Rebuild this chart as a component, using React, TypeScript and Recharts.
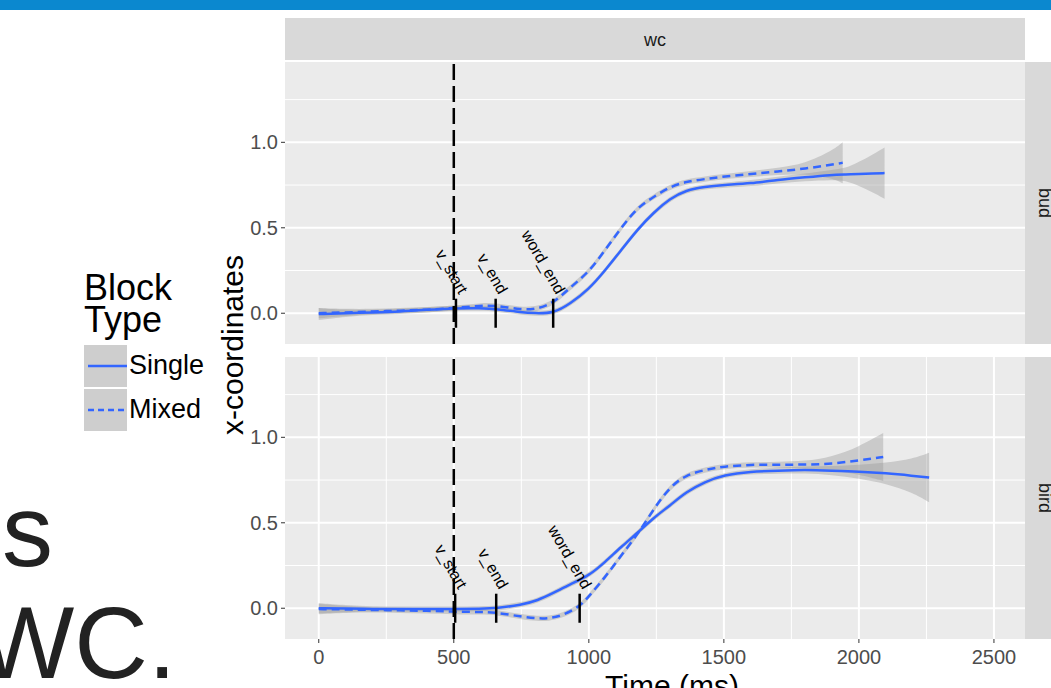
import React from 'react'
import {
  ComposedChart,
  Line,
  Area,
  Scatter,
  XAxis,
  YAxis,
  CartesianGrid,
  ReferenceLine,
} from 'recharts'

// bud panel, Single block
const budSingleT = [0, 100, 200, 300, 400, 500, 600, 660, 750, 800, 870, 930, 1000, 1060, 1120, 1180, 1240, 1300, 1360, 1430, 1500, 1600, 1700, 1800, 1900, 1950, 2000, 2050, 2095]
const budSingleV = [-0.005, 0.0, 0.005, 0.01, 0.02, 0.03, 0.03, 0.025, 0.005, 0.0, 0.0, 0.055, 0.14, 0.25, 0.37, 0.49, 0.59, 0.67, 0.72, 0.74, 0.75, 0.76, 0.78, 0.795, 0.81, 0.812, 0.815, 0.818, 0.82]
const budSingleSe = [0.035, 0.02, 0.015, 0.015, 0.015, 0.015, 0.015, 0.015, 0.015, 0.015, 0.015, 0.015, 0.015, 0.015, 0.015, 0.015, 0.015, 0.015, 0.015, 0.015, 0.015, 0.018, 0.02, 0.022, 0.03, 0.035, 0.07, 0.11, 0.15]

// bud panel, Mixed block
const budMixedT = [0, 100, 200, 300, 400, 500, 600, 660, 750, 810, 870, 930, 1000, 1060, 1120, 1180, 1240, 1300, 1360, 1430, 1500, 1600, 1700, 1800, 1900, 1940]
const budMixedV = [0.0, 0.005, 0.01, 0.015, 0.02, 0.03, 0.045, 0.045, 0.02, 0.025, 0.06, 0.15, 0.24, 0.37, 0.5, 0.62, 0.68, 0.74, 0.77, 0.785, 0.8, 0.815, 0.83, 0.845, 0.87, 0.88]
const budMixedSe = [0.03, 0.02, 0.015, 0.015, 0.015, 0.015, 0.015, 0.015, 0.015, 0.015, 0.015, 0.015, 0.015, 0.015, 0.015, 0.015, 0.015, 0.015, 0.015, 0.015, 0.015, 0.018, 0.02, 0.03, 0.08, 0.12]

// bird panel, Single block
const birdSingleT = [0, 100, 200, 300, 400, 500, 600, 660, 750, 810, 870, 930, 1000, 1060, 1120, 1180, 1240, 1300, 1360, 1430, 1500, 1600, 1700, 1800, 1900, 2000, 2100, 2200, 2260]
const birdSingleV = [0.0, -0.002, -0.004, -0.005, -0.005, -0.005, -0.003, 0.0, 0.02, 0.045, 0.09, 0.14, 0.19, 0.27, 0.36, 0.44, 0.53, 0.6, 0.68, 0.74, 0.78, 0.8, 0.805, 0.81, 0.805, 0.8, 0.79, 0.775, 0.765]
const birdSingleSe = [0.03, 0.02, 0.015, 0.015, 0.015, 0.015, 0.015, 0.015, 0.015, 0.015, 0.015, 0.015, 0.015, 0.015, 0.015, 0.015, 0.015, 0.015, 0.015, 0.015, 0.015, 0.015, 0.018, 0.02, 0.025, 0.04, 0.06, 0.1, 0.145]

// bird panel, Mixed block
const birdMixedT = [0, 100, 200, 300, 400, 500, 600, 660, 750, 810, 850, 900, 967, 1000, 1060, 1120, 1180, 1240, 1300, 1360, 1430, 1500, 1600, 1700, 1800, 1900, 2000, 2090]
const birdMixedV = [-0.005, -0.007, -0.01, -0.012, -0.015, -0.02, -0.022, -0.025, -0.05, -0.06, -0.06, -0.045, 0.01, 0.07, 0.18, 0.31, 0.43, 0.58, 0.71, 0.78, 0.81, 0.83, 0.84, 0.84, 0.84, 0.845, 0.865, 0.885]
const birdMixedSe = [0.03, 0.02, 0.015, 0.015, 0.015, 0.015, 0.015, 0.015, 0.015, 0.015, 0.015, 0.015, 0.015, 0.015, 0.015, 0.015, 0.015, 0.015, 0.015, 0.015, 0.015, 0.015, 0.015, 0.018, 0.02, 0.04, 0.08, 0.14]

// landmarks
const markerNames = ['v_start', 'v_end', 'word_end']
const budMarkers = [508, 655, 868]
const birdMarkers = [505, 657, 966]
const onsetTime = 500

const xTicks = [0, 500, 1000, 1500, 2000, 2500]
const xMinor = [250, 750, 1250, 1750, 2250]
const yTicks = [0, 0.5, 1.0]
const yMinor = [0.25, 0.75, 1.25]
const xDomain = [-125, 2615]
const yDomain = [-0.18, 1.47]

const BLUE = '#3366FF'
const FONT = '"Liberation Sans", Arial, sans-serif'

function build(ts: number[], vs: number[], se: number[]) {
  return ts.map((t, i) => ({ t, v: vs[i], band: [vs[i] - se[i], vs[i] + se[i]] }))
}

const renderLabel = (props: any) => {
  const { cx, cy, payload } = props
  return (
    <text
      x={cx + 3}
      y={cy - 1}
      transform={`rotate(60 ${cx + 3} ${cy - 1})`}
      textAnchor="end"
      fontSize={16}
      fontFamily={FONT}
      fill="#000"
    >
      {payload.name}
    </text>
  )
}

function Panel({ single, mixed, markers, showX, height }: any) {
  const labels = markers.map((t: number, i: number) => ({ t, y: 0.1, name: markerNames[i] }))
  return (
    <ComposedChart width={795} height={height} margin={{ top: 0, right: 0, bottom: 0, left: 0 }}>
      <CartesianGrid
        fill="#EBEBEB"
        stroke="#fff"
        strokeWidth={1}
        horizontalValues={yMinor}
        verticalValues={xMinor}
      />
      <CartesianGrid
        stroke="#fff"
        strokeWidth={2}
        horizontalValues={yTicks}
        verticalValues={xTicks}
      />
      <XAxis
        dataKey="t"
        type="number"
        domain={xDomain}
        ticks={xTicks}
        allowDataOverflow
        height={showX ? 36 : 0}
        tick={showX ? { fill: '#4d4d4d', fontSize: 20, fontFamily: FONT } : false}
        tickLine={showX ? { stroke: '#333' } : false}
        axisLine={false}
        tickSize={4}
        tickMargin={7}
      />
      <YAxis
        type="number"
        domain={yDomain}
        ticks={yTicks}
        allowDataOverflow
        width={55}
        tick={{ fill: '#4d4d4d', fontSize: 20, fontFamily: FONT }}
        tickLine={{ stroke: '#333' }}
        axisLine={false}
        tickSize={4}
        tickMargin={3}
        tickFormatter={(v: number) => v.toFixed(1)}
      />
      <Area data={single} dataKey="band" type="basis" fill="#999999" fillOpacity={0.4} stroke="none" isAnimationActive={false} />
      <Area data={mixed} dataKey="band" type="basis" fill="#999999" fillOpacity={0.4} stroke="none" isAnimationActive={false} />
      <Line data={single} dataKey="v" type="basis" stroke={BLUE} strokeWidth={2.5} dot={false} isAnimationActive={false} />
      <Line data={mixed} dataKey="v" type="basis" stroke={BLUE} strokeWidth={2.5} strokeDasharray="8 5" dot={false} isAnimationActive={false} />
      <ReferenceLine x={onsetTime} stroke="#000" strokeWidth={2.5} strokeDasharray="16 6" />
      {markers.map((t: number) => (
        <ReferenceLine
          key={t}
          segment={[{ x: t, y: -0.085 }, { x: t, y: 0.085 }]}
          stroke="#000"
          strokeWidth={2.5}
        />
      ))}
      <Scatter data={labels} dataKey="y" shape={renderLabel} isAnimationActive={false} />
    </ComposedChart>
  )
}

export default function App() {
  const budS = build(budSingleT, budSingleV, budSingleSe)
  const budM = build(budMixedT, budMixedV, budMixedSe)
  const birdS = build(birdSingleT, birdSingleV, birdSingleSe)
  const birdM = build(birdMixedT, birdMixedV, birdMixedSe)

  return (
    <div style={{ position: 'absolute', left: 0, top: 0, width: 1051, height: 688, overflow: 'hidden', background: '#fff', fontFamily: FONT }}>
      <div style={{ position: 'absolute', left: 0, top: 0, width: 1051, height: 10, background: '#0b88cf' }} />

      {/* slide text cut off on the left */}
      <div style={{ position: 'absolute', left: 2, top: 481, fontSize: 102, color: '#222', lineHeight: '100px' }}>s</div>
      <div style={{ position: 'absolute', left: -22, top: 593, fontSize: 102, color: '#222', lineHeight: '100px' }}>WC.</div>

      {/* facet strips */}
      <div style={{ position: 'absolute', left: 285, top: 18, width: 740, height: 42, background: '#D9D9D9', display: 'flex', alignItems: 'center', justifyContent: 'center', fontSize: 18, color: '#1a1a1a', paddingTop: 2, boxSizing: 'border-box' }}>wc</div>
      <div style={{ position: 'absolute', left: 1025, top: 62, width: 40, height: 282, background: '#D9D9D9' }} />
      <div style={{ position: 'absolute', left: 1025, top: 357, width: 40, height: 282, background: '#D9D9D9' }} />
      <div style={{ position: 'absolute', left: 1044, top: 203, transform: 'translate(-50%, -50%) rotate(90deg)', fontSize: 18, color: '#1a1a1a' }}>bud</div>
      <div style={{ position: 'absolute', left: 1044, top: 498, transform: 'translate(-50%, -50%) rotate(90deg)', fontSize: 18, color: '#1a1a1a' }}>bird</div>

      <div style={{ position: 'absolute', left: 230, top: 62 }}>
        <Panel single={budS} mixed={budM} markers={budMarkers} showX={false} height={282} />
      </div>
      <div style={{ position: 'absolute', left: 230, top: 357 }}>
        <Panel single={birdS} mixed={birdM} markers={birdMarkers} showX={true} height={318} />
      </div>

      {/* axis titles */}
      <div style={{ position: 'absolute', left: 233, top: 345, transform: 'translate(-50%, -50%) rotate(-90deg)', fontSize: 30, color: '#000', whiteSpace: 'nowrap' }}>x-coordinates</div>
      <div style={{ position: 'absolute', left: 672, top: 669, transform: 'translateX(-50%)', fontSize: 30, color: '#000', whiteSpace: 'nowrap', lineHeight: '34px' }}>Time (ms)</div>

      {/* legend */}
      <div style={{ position: 'absolute', left: 84, top: 272, fontSize: 36, lineHeight: '32px', height: 32, color: '#000' }}>Block</div>
      <div style={{ position: 'absolute', left: 84, top: 304, fontSize: 36, lineHeight: '32px', height: 32, color: '#000' }}>Type</div>
      {[
        { name: 'Single', dash: undefined, top: 345 },
        { name: 'Mixed', dash: '6 4', top: 389 },
      ].map(k => (
        <div key={k.name} style={{ position: 'absolute', left: 84, top: k.top }}>
          <svg width={43} height={42} style={{ position: 'absolute', left: 0, top: 0 }}>
            <rect x={0} y={0} width={43} height={42} fill="#CECECE" />
            <line x1={4} x2={43} y1={21} y2={21} stroke={BLUE} strokeWidth={2.5} strokeDasharray={k.dash} />
          </svg>
          <div style={{ position: 'absolute', left: 45, top: 5, fontSize: 27, lineHeight: '30px', color: '#000' }}>{k.name}</div>
        </div>
      ))}
    </div>
  )
}
